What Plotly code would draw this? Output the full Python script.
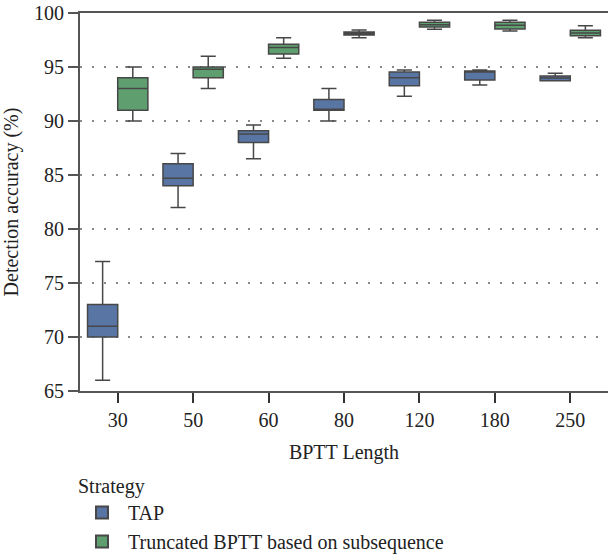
import plotly.graph_objects as go

categories = ["30", "50", "60", "80", "120", "180", "250"]

tap_low = [66.0, 82.0, 86.5, 90.0, 92.3, 93.33, 93.73]
tap_q1 = [70.0, 84.0, 88.0, 91.0, 93.27, 93.8, 93.73]
tap_med = [71.0, 84.7, 88.8, 91.0, 94.0, 94.63, 93.98]
tap_q3 = [73.0, 86.05, 89.1, 92.0, 94.54, 94.63, 94.17]
tap_high = [77.0, 87.0, 89.63, 93.0, 94.72, 94.72, 94.41]

tbs_low = [90.0, 93.0, 95.8, 97.7, 98.5, 98.33, 97.71]
tbs_q1 = [91.0, 94.0, 96.2, 97.96, 98.7, 98.52, 97.9]
tbs_med = [93.0, 94.8, 96.8, 98.1, 98.92, 98.86, 98.15]
tbs_q3 = [94.0, 95.0, 97.1, 98.24, 99.14, 99.14, 98.4]
tbs_high = [95.0, 96.0, 97.7, 98.43, 99.32, 99.32, 98.83]

y_ticks = [65, 70, 75, 80, 85, 90, 95, 100]

FONT = "Liberation Serif"
EDGE = "#474747"
W, H = 608, 559
L, T, B = 80, 13, 168
PW, PH = W - L, H - T - B

fig = go.Figure()
fig.add_trace(go.Box(
    name="TAP", x=categories, q1=tap_q1, median=tap_med, q3=tap_q3,
    lowerfence=tap_low, upperfence=tap_high,
    fillcolor="#5975a4", line=dict(color=EDGE, width=1.5),
    whiskerwidth=0.5, boxpoints=False,
))
fig.add_trace(go.Box(
    name="Truncated BPTT based on subsequence", x=categories, q1=tbs_q1,
    median=tbs_med, q3=tbs_q3, lowerfence=tbs_low, upperfence=tbs_high,
    fillcolor="#5f9e6e", line=dict(color=EDGE, width=1.5),
    whiskerwidth=0.5, boxpoints=False,
))

fig.update_layout(
    width=W, height=H,
    margin=dict(l=L, r=0, t=T, b=B, autoexpand=False),
    paper_bgcolor="white", plot_bgcolor="white",
    boxmode="group", boxgap=0.2, boxgroupgap=0.0,
    font=dict(family=FONT, size=20, color="#222222"),
    xaxis=dict(
        type="category", categoryorder="array", categoryarray=categories,
        range=[-0.5, 6.5], tickangle=0, automargin=False,
        title=dict(text="BPTT Length", font=dict(size=20)),
        showline=True, linecolor="#555555", linewidth=2, mirror=True,
        ticks="outside", ticklen=10, tickwidth=1.5, tickcolor="#333333",
        showgrid=False, zeroline=False, tickfont=dict(size=20),
    ),
    yaxis=dict(
        range=[65, 100], tickvals=y_ticks, automargin=False,
        ticklabeloverflow="allow",
        title=dict(text="Detection accuracy (%)", font=dict(size=20)),
        showline=True, linecolor="#555555", linewidth=2,
        ticks="outside", ticklen=10, tickwidth=1.5, tickcolor="#555555",
        showgrid=True, gridcolor="#8a8a8a", gridwidth=2, griddash="2px,10px",
        zeroline=False, tickfont=dict(size=20),
    ),
    showlegend=True,
    legend=dict(
        title=dict(text="Strategy", font=dict(size=20)),
        orientation="v", xref="paper", yref="paper",
        x=(76 - L) / PW, xanchor="left", y=(H - B - 467) / PH, yanchor="top",
        font=dict(size=20), itemsizing="constant", tracegroupgap=0,
        itemwidth=42,
    ),
)

fig.write_html(
    "out.html",
    config={"displayModeBar": False},
    post_script="document.body.style.margin='0';",
)
